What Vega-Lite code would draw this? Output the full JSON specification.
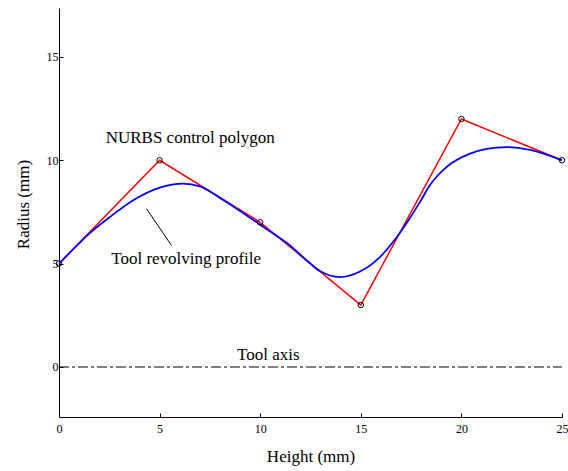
{
  "$schema": "https://vega.github.io/schema/vega-lite/v6.json",
  "width": 503,
  "height": 409,
  "autosize": {"type": "none"},
  "padding": {"left": 59, "top": 8, "right": 6, "bottom": 54},
  "background": "white",
  "config": {
    "view": {"stroke": null},
    "font": "Liberation Serif, DejaVu Serif, serif",
    "axis": {
      "labelFont": "Liberation Serif, DejaVu Serif, serif",
      "titleFont": "Liberation Serif, DejaVu Serif, serif",
      "labelFontSize": 12,
      "titleFontSize": 17,
      "titleFontWeight": "normal",
      "labelColor": "black",
      "titleColor": "black",
      "domainColor": "black",
      "tickColor": "black",
      "labelFlush": false,
      "grid": false
    }
  },
  "datasets": {
    "ctrl": [
      {"x": 0, "y": 5}, {"x": 5, "y": 10}, {"x": 10, "y": 7},
      {"x": 15, "y": 3}, {"x": 20, "y": 12}, {"x": 25, "y": 10}
    ],
    "curve": [
      {"x": 0, "y": 5}, {"x": 1, "y": 5.98}, {"x": 1.5, "y": 6.45}, {"x": 2.53, "y": 7.26},
      {"x": 3.69, "y": 8.07}, {"x": 5.01, "y": 8.68}, {"x": 6.17, "y": 8.87},
      {"x": 7.0, "y": 8.74}, {"x": 8.0, "y": 8.18}, {"x": 9.0, "y": 7.55},
      {"x": 10.0, "y": 6.88}, {"x": 11.48, "y": 5.88}, {"x": 12.4, "y": 5.08},
      {"x": 12.97, "y": 4.64}, {"x": 13.97, "y": 4.35}, {"x": 14.96, "y": 4.62},
      {"x": 15.95, "y": 5.32}, {"x": 16.79, "y": 6.29}, {"x": 17.45, "y": 7.22},
      {"x": 17.95, "y": 8.0}, {"x": 18.44, "y": 8.8}, {"x": 19.27, "y": 9.68},
      {"x": 20.43, "y": 10.32}, {"x": 21.26, "y": 10.55}, {"x": 22.26, "y": 10.64},
      {"x": 23.42, "y": 10.5}, {"x": 25, "y": 10}
    ],
    "axisline": [{"x": 0, "y": 0}, {"x": 25, "y": 0}],
    "pointer": [{"x": 4.35, "y": 7.66}, {"x": 5.59, "y": 5.88}],
    "labels": [
      {"x": 6.52, "y": 10.84, "t": "NURBS control polygon"},
      {"x": 6.32, "y": 4.97, "t": "Tool revolving profile"},
      {"x": 10.4, "y": 0.36, "t": "Tool axis"}
    ]
  },
  "encoding": {
    "x": {
      "field": "x", "type": "quantitative",
      "scale": {"domain": [0, 25], "nice": false, "zero": false},
      "axis": {
        "title": "Height (mm)", "values": [0, 5, 10, 15, 20, 25],
        "tickSize": -4, "labelPadding": 10, "titlePadding": 14,
        "labelAngle": 0
      }
    },
    "y": {
      "field": "y", "type": "quantitative",
      "scale": {"domain": [-2.42, 17.37], "nice": false, "zero": false},
      "axis": {
        "title": "Radius (mm)", "values": [0, 5, 10, 15],
        "tickSize": -4, "labelPadding": 5, "titlePadding": 14,
        "titleY": 196
      }
    }
  },
  "layer": [
    {
      "data": {"name": "axisline"},
      "mark": {"type": "line", "color": "black", "strokeWidth": 1, "strokeDash": [10, 3, 3, 3]}
    },
    {
      "data": {"name": "ctrl"},
      "mark": {"type": "line", "color": "#ff0000", "strokeWidth": 1.5}
    },
    {
      "data": {"name": "curve"},
      "mark": {"type": "line", "color": "#0000ff", "strokeWidth": 1.8, "interpolate": "monotone"}
    },
    {
      "data": {"name": "ctrl"},
      "mark": {"type": "point", "shape": "circle", "filled": false, "color": "black", "size": 30, "strokeWidth": 1, "opacity": 1}
    },
    {
      "data": {"name": "pointer"},
      "mark": {"type": "line", "color": "black", "strokeWidth": 1}
    },
    {
      "data": {"name": "labels"},
      "mark": {"type": "text", "font": "Liberation Serif, DejaVu Serif, serif", "fontSize": 17, "align": "center", "baseline": "alphabetic", "color": "black"},
      "encoding": {"text": {"field": "t"}}
    }
  ]
}
